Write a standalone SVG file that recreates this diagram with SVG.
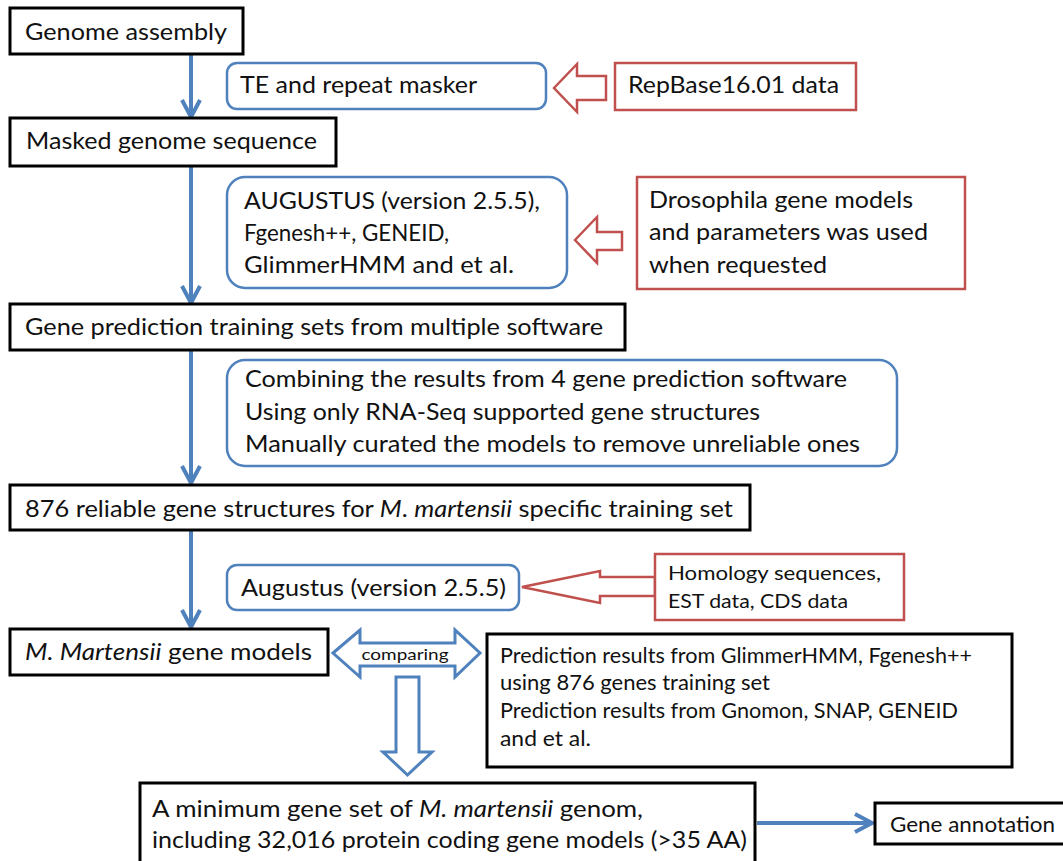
<svg xmlns="http://www.w3.org/2000/svg" width="1063" height="861" viewBox="0 0 1063 861">
<style>
  text { font-family: Lato, "Open Sans", "Liberation Sans", sans-serif; fill: #111; }
  .big { font-size: 24px; }
  .mid { font-size: 21px; }
  .sm { font-size: 19px; }
  .tiny { font-size: 15px; }
  .blk { fill: #fff; stroke: #000; stroke-width: 3; }
  .blu { fill: #fff; stroke: #4F81BD; stroke-width: 2.5; }
  .red { fill: #fff; stroke: #C0504D; stroke-width: 2.5; }
  .redarrow { fill: #fff; stroke: #C0504D; stroke-width: 2.5; stroke-linejoin: miter; }
  .bluarrow { fill: #fff; stroke: #4F81BD; stroke-width: 3; stroke-linejoin: miter; }
  .flow { fill: none; stroke: #4F81BD; stroke-width: 4; }
  .it { font-style: italic; }
</style>
<rect width="1063" height="861" fill="#fff"/>

<g id="connectors">
  <line class="flow" x1="191" y1="55" x2="191" y2="116"/>
  <polyline class="flow" points="182,100 191,117 200,100"/>
  <line class="flow" x1="191" y1="167" x2="191" y2="302"/>
  <polyline class="flow" points="182,286 191,303 200,286"/>
  <line class="flow" x1="191" y1="351" x2="191" y2="482"/>
  <polyline class="flow" points="182,466 191,483 200,466"/>
  <line class="flow" x1="191" y1="531" x2="191" y2="626"/>
  <polyline class="flow" points="182,610 191,627 200,610"/>
  <line class="flow" x1="757" y1="823" x2="871" y2="823"/>
  <polyline class="flow" points="855,814 872,823 855,832"/>
  <polygon class="redarrow" points="554,88 577,64 577,76 606,76 606,100 577,100 577,112"/>
  <polygon class="redarrow" points="575,240 597,217 597,232 622,232 622,250 597,250 597,263"/>
  <polygon class="redarrow" points="522,587 600,571 600,577 655,577 655,596 600,596 600,603"/>
  <polygon class="bluarrow" points="333,653 360,630 360,643 455,643 455,630 480,653 455,677 455,666 360,666 360,677"/>
  <polygon class="bluarrow" points="396,677 419,677 419,752 432,752 407.5,775 383,752 396,752"/>
  <text class="tiny" x="405" y="660" text-anchor="middle" textLength="87" lengthAdjust="spacingAndGlyphs">comparing</text>
</g>

<g id="genome-assembly">
  <rect class="blk" x="10" y="8" width="233" height="46"/>
  <text class="big" x="25" y="40" textLength="202" lengthAdjust="spacingAndGlyphs">Genome assembly</text>
</g>

<g id="te-masker">
  <rect class="blu" x="227" y="63" width="319" height="46" rx="10"/>
  <text class="big" x="240" y="93" textLength="237" lengthAdjust="spacingAndGlyphs">TE and repeat masker</text>
</g>

<g id="repbase">
  <rect class="red" x="615" y="63" width="241" height="47"/>
  <text class="big" x="628" y="93" textLength="211" lengthAdjust="spacingAndGlyphs">RepBase16.01 data</text>
</g>

<g id="masked-genome">
  <rect class="blk" x="10" y="118" width="326" height="48"/>
  <text class="big" x="26" y="149" textLength="291" lengthAdjust="spacingAndGlyphs">Masked genome sequence</text>
</g>

<g id="augustus-tools">
  <rect class="blu" x="227" y="177" width="340" height="111" rx="18"/>
  <text class="big" x="244" y="209" textLength="296" lengthAdjust="spacingAndGlyphs">AUGUSTUS (version 2.5.5),</text>
  <text class="big" x="244" y="241" textLength="205" lengthAdjust="spacingAndGlyphs">Fgenesh++, GENEID,</text>
  <text class="big" x="244" y="273" textLength="270" lengthAdjust="spacingAndGlyphs">GlimmerHMM and et al.</text>
</g>

<g id="drosophila">
  <rect class="red" x="637" y="177" width="328" height="112"/>
  <text class="big" x="649" y="208" textLength="264" lengthAdjust="spacingAndGlyphs">Drosophila gene models</text>
  <text class="big" x="649" y="240" textLength="279" lengthAdjust="spacingAndGlyphs">and parameters was used</text>
  <text class="big" x="649" y="273" textLength="178" lengthAdjust="spacingAndGlyphs">when requested</text>
</g>

<g id="training-sets">
  <rect class="blk" x="10" y="304" width="615" height="46"/>
  <text class="big" x="25" y="335" textLength="578" lengthAdjust="spacingAndGlyphs">Gene prediction training sets from multiple software</text>
</g>

<g id="combining">
  <rect class="blu" x="227" y="360" width="670" height="106" rx="18"/>
  <text class="big" x="245" y="387" textLength="602" lengthAdjust="spacingAndGlyphs">Combining the results from 4 gene prediction software</text>
  <text class="big" x="245" y="420" textLength="515" lengthAdjust="spacingAndGlyphs">Using only RNA-Seq supported gene structures</text>
  <text class="big" x="245" y="452" textLength="615" lengthAdjust="spacingAndGlyphs">Manually curated the models to remove unreliable ones</text>
</g>

<g id="reliable-876">
  <rect class="blk" x="10" y="485" width="740" height="45"/>
  <text class="big" x="25" y="517" textLength="708" lengthAdjust="spacingAndGlyphs">876 reliable gene structures for <tspan class="it">M</tspan>. <tspan class="it">martensii</tspan> specific training set</text>
</g>

<g id="augustus">
  <rect class="blu" x="227" y="565" width="292" height="45" rx="10"/>
  <text class="big" x="241" y="596" textLength="265" lengthAdjust="spacingAndGlyphs">Augustus (version 2.5.5)</text>
</g>

<g id="homology">
  <rect class="red" x="655" y="554" width="249" height="66"/>
  <text class="sm" x="668" y="580" textLength="213" lengthAdjust="spacingAndGlyphs">Homology sequences,</text>
  <text class="sm" x="668" y="608" textLength="180" lengthAdjust="spacingAndGlyphs">EST data, CDS data</text>
</g>

<g id="gene-models">
  <rect class="blk" x="10" y="629" width="318" height="46"/>
  <text class="big" x="25" y="660" textLength="287" lengthAdjust="spacingAndGlyphs"><tspan class="it">M. Martensii</tspan> gene models</text>
</g>

<g id="prediction-results">
  <rect class="blk" x="487" y="634" width="525" height="133"/>
  <text class="mid" x="500" y="663" textLength="472" lengthAdjust="spacingAndGlyphs">Prediction results from GlimmerHMM, Fgenesh++</text>
  <text class="mid" x="500" y="690" textLength="270" lengthAdjust="spacingAndGlyphs">using 876 genes training set</text>
  <text class="mid" x="500" y="718" textLength="458" lengthAdjust="spacingAndGlyphs">Prediction results from Gnomon, SNAP, GENEID</text>
  <text class="mid" x="500" y="746" textLength="91" lengthAdjust="spacingAndGlyphs">and et al.</text>
</g>

<g id="minimum-gene-set">
  <rect class="blk" x="140" y="783" width="615" height="95"/>
  <text class="big" x="152" y="817" textLength="491" lengthAdjust="spacingAndGlyphs">A minimum gene set of <tspan class="it">M. martensii</tspan> genom,</text>
  <text class="big" x="152" y="848" textLength="595" lengthAdjust="spacingAndGlyphs">including 32,016 protein coding gene models (&gt;35 AA)</text>
</g>

<g id="gene-annotation">
  <rect class="blk" x="875" y="803" width="200" height="41"/>
  <text class="mid" x="890" y="832" textLength="165" lengthAdjust="spacingAndGlyphs">Gene annotation</text>
</g>
</svg>
